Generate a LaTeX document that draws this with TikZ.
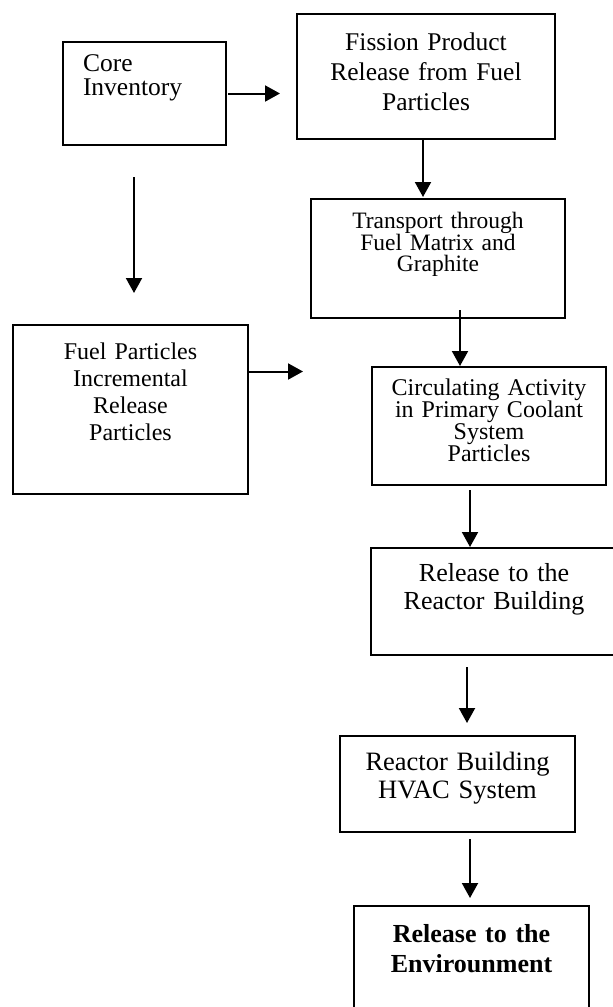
\documentclass[tikz,border=0pt]{standalone}
\usepackage{fontspec}
\setmainfont{Liberation Serif}
\usepackage{tikz}
\usetikzlibrary{arrows.meta}

\begin{document}
\begin{tikzpicture}[
    x=1pt, y=-1pt,
    box/.style={draw, line width=1.6pt, inner xsep=6pt, inner ysep=0pt, outer sep=0pt, anchor=north, align=center},
    arr/.style={-{Triangle[length=15pt, width=16pt]}, line width=2pt},
]
\useasboundingbox (0,0) rectangle (613,1007);

% Inventory
\node[box, inner xsep=20pt, align=left, text width=123pt, text height=29.7pt, text depth=73.3pt,
      font=\fontsize{25.5}{24}\selectfont] (core) at (144.5,42) {Core\\Inventory};

% Release from particles
\node[box, text width=246pt, text height=36pt, text depth=89pt,
      font=\fontsize{25.5}{30}\selectfont] (fission) at (426,14) {Fission Product\\Release from Fuel\\Particles};

% Transport
\node[box, text width=242pt, text height=29.3pt, text depth=89.7pt,
      font=\fontsize{23.5}{21.8}\selectfont] (transport) at (438,199) {Transport through\\Fuel Matrix and\\Graphite};

% Incremental release
\node[box, text width=223pt, text height=34pt, text depth=135pt,
      font=\fontsize{24}{27.3}\selectfont] (fuel) at (130.5,325) {Fuel Particles\\Incremental\\Release\\Particles};

% Primary coolant
\node[box, text width=222pt, text height=28pt, text depth=90pt,
      font=\fontsize{24}{22.2}\selectfont] (circ) at (489,367) {Circulating Activity\\in Primary Coolant\\System\\Particles};

% Building
\node[box, text width=234pt, text height=33.7pt, text depth=73.3pt,
      font=\fontsize{26}{27.5}\selectfont] (release) at (494,548) {Release to the\\Reactor Building};

\node[box, text width=223pt, text height=34pt, text depth=62pt,
      font=\fontsize{26.5}{28.5}\selectfont] (hvac) at (457.5,736) {Reactor Building\\HVAC System};

% Environment
\node[box, text width=223pt, text height=36pt, text depth=67pt,
      font=\fontsize{26}{30}\selectfont\bfseries] (env) at (471.5,906) {Release to the\\Envirounment};

% Arrows
\draw[arr, shorten <=2pt, shorten >=17pt] (core.east) -- (core.east -| fission.west);
\draw[arr, shorten >=2pt] ([xshift=-3pt]fission.south) -- ([xshift=-3pt]fission.south |- transport.north);
\draw[arr, shorten <=32pt, shorten >=32pt] ([xshift=-10.5pt]core.south) -- ([xshift=-10.5pt]core.south |- fuel.north);
\draw[arr, shorten >=69pt] ([yshift=38pt]fuel.east) -- ([yshift=38pt]fuel.east -| circ.west);
\draw[arr, shorten <=-8pt, shorten >=1pt] ([xshift=22pt]transport.south) -- ([xshift=22pt]transport.south |- circ.north);
\draw[arr, shorten <=5pt, shorten >=1pt] ([xshift=-19pt]circ.south) -- ([xshift=-19pt]circ.south |- release.north);
\draw[arr, shorten <=12pt, shorten >=13pt] ([xshift=-27pt]release.south) -- ([xshift=-27pt]release.south |- hvac.north);
\draw[arr, shorten <=7pt, shorten >=8pt] ([xshift=12.5pt]hvac.south) -- ([xshift=12.5pt]hvac.south |- env.north);
\end{tikzpicture}
\end{document}
